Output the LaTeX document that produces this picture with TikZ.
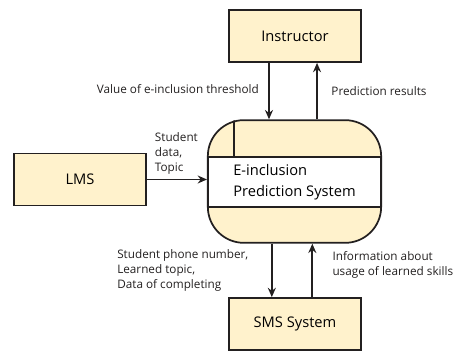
\documentclass[tikz,border=0pt]{standalone}
\usepackage{fontspec}
\setmainfont{Open Sans}
\usetikzlibrary{arrows.meta,positioning}
\definecolor{boxyellow}{RGB}{255,242,204}
\definecolor{edgegray}{RGB}{35,32,32}

\begin{document}
\begin{tikzpicture}[x=0.75pt, y=-0.75pt,
    entity/.style={rectangle, draw=edgegray, fill=boxyellow, line width=1.3pt,
                minimum width=99pt, minimum height=39pt, font=\fontsize{11}{13}\selectfont},
    process/.style={rectangle, draw=edgegray, fill=boxyellow, line width=1.3pt,
                rounded corners=27pt, minimum width=130pt, minimum height=92pt},
    band/.style={rectangle, draw=edgegray, fill=white, line width=1.3pt,
                minimum width=130pt, minimum height=37.5pt, align=left,
                font=\fontsize{11}{15.5}\selectfont},
    flowlabel/.style={font=\fontsize{8.8}{11.3}\selectfont, align=left, inner sep=0pt},
    flow/.style={-{Stealth[length=7pt, width=6pt]}, line width=1.3pt, edgegray}
]

\useasboundingbox (0,0) rectangle (455,352);

\node[entity] (instr) at (295,36) {Instructor};
\node[entity] (lms) at (80,179.5) {LMS};
\node[entity] (sms) at (295,324) {SMS System};
\node[process] (eps) at (294.5,181.5) {};
\node[band] (core) at (294.5,182) {E-inclusion\\Prediction System};
\begin{scope}
  \clip[rounded corners=27pt] (eps.south west) rectangle (eps.north east);
  \draw[line width=1.2pt, edgegray] (234,110) -- (234,157);
\end{scope}

% flows with the instructor
\draw[flow] ([xshift=-19.5pt]instr.south) -- ([xshift=-19.5pt]instr.south |- eps.north)
    node[flowlabel, pos=0.47, left=7pt] {Value of e-inclusion threshold};
\draw[flow] ([xshift=16.9pt]eps.north) -- ([xshift=16.9pt]eps.north |- instr.south)
    node[flowlabel, pos=0.5, right=10.2pt] {Prediction results};

% flow from the LMS
\draw[flow] (lms) -- (lms -| eps.west)
    node[flowlabel, pos=0.12, above right=3pt and 0pt] {Student\\data,\\Topic};

% flows with the SMS system
\draw[flow] ([xshift=-17pt]eps.south) -- ([xshift=-17pt]eps.south |- sms.north)
    node[flowlabel, pos=0.5, left=17pt] {Student phone number,\\Learned topic,\\Data of completing};
\draw[flow] ([xshift=13pt]sms.north) -- ([xshift=13pt]sms.north |- eps.south)
    node[flowlabel, pos=0.6, right=14.5pt] {Information about\\usage of learned skills};

\end{tikzpicture}
\end{document}
